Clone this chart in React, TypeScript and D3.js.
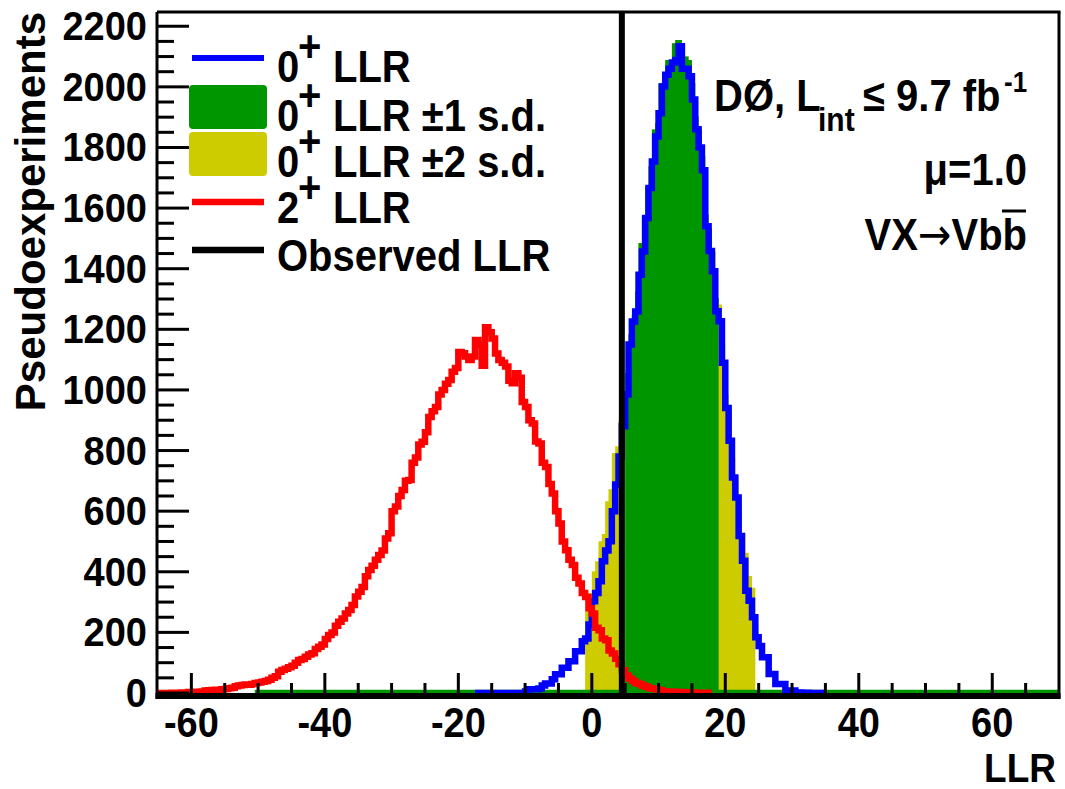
import React from "react";
import * as d3 from "d3";

const W = 1065;
const H = 789;
const BIN = 0.5;
const X_DOMAIN: [number, number] = [-65, 70];
const Y_DOMAIN: [number, number] = [0, 2247];

// 2+ LLR histogram, bins of 0.5 starting at -65
const RED_START = -65;
const red2Plus = [
  0, 0, 0, 0, 1, 1, 1, 2, 2, 3, 3, 4, 4, 5,
  8, 9, 10, 11, 10, 12, 13,
  16, 17,
  22, 25, 26, 28, 27, 30,
  33, 35, 37, 40, 44,
  50, 55,
  70, 76, 80,
  85, 90,
  100, 109, 112,
  120, 127, 131,
  145, 153, 160,
  178, 191, 200,
  222, 235, 246,
  262, 274, 290,
  318, 334, 350,
  385, 406, 420,
  440, 455, 470,
  510, 527,
  600, 615, 650, 670, 700, 703, 760, 777, 820, 829, 860, 911, 930, 944, 985, 1000, 1020, 1033, 1060, 1072,
  1125, 1121, 1110,
  1099, 1110,
  1165, 1150,
  1080,
  1207,
  1190, 1170,
  1120, 1099, 1090, 1077, 1030, 1022, 1055, 1040, 960, 944, 900, 889, 830, 823, 760, 746, 690, 658, 600, 559,
  500, 471, 440, 422, 380, 361, 330, 317, 280, 262, 215, 207, 180, 174, 140, 130, 113, 95, 75, 58,
  48, 40, 33, 30, 24, 21,
  16, 14, 12, 10,
  6, 5, 5, 4, 4, 3, 3, 2, 2, 2, 1, 1, 1, 1, 0,
];

// 0+ LLR histogram, bins of 0.5 starting at -17.5
const BLUE_START = -17.5;
const blue0Plus = [
  0, 0, 0, 0, 0, 0, 0, 0, 0, 0, 0, 0, 0, 0, 0,
  5, 12, 12, 12, 15,
  25, 31, 31,
  45, 62, 62,
  83, 83, 105, 105, 138, 138, 171, 180,
  226,
  303, 330, 369, 435, 470, 501, 600, 688, 780, 880,
  985, 1150, 1226, 1259, 1380, 1457, 1567, 1666, 1754, 1836,
  1913, 2001, 2040, 2060, 2080, 2089, 2134, 2060, 2060, 2035,
  1958, 1860, 1800, 1725, 1540, 1458, 1392, 1260, 1227, 1090,
  940, 832, 711, 645, 518, 436, 337, 304, 250, 184,
  155, 118, 118, 63, 63, 30, 30, 30, 8, 8,
  8, 2, 2, 1, 1, 0, 0, 0, 0, 0,
];

// 0+ LLR band histogram (filled), bins of 0.5 starting at -1.0
const BAND_START = -1.0;
const band0Plus = [
  270, 330, 402, 435, 501, 525, 633, 672, 792, 814, 900, 980,
  1056, 1183, 1249, 1325, 1485, 1573, 1672, 1738, 1859, 1880,
  2012, 2012, 2089, 2089, 2144, 2155, 2155, 2100, 2100, 2089,
  2012, 1902, 1859, 1771, 1578, 1534, 1457, 1303, 1282, 1150,
  986, 930, 776, 715, 617, 528, 463, 386, 347,
];
const ONE_SD: [number, number] = [5.0, 19.0];
const BAND_LINE_RANGE: [number, number] = [-50.5, 70];
const OBSERVED_LLR = 4.5;

const X_MAJOR = [-60, -40, -20, 0, 20, 40, 60];
const Y_MAJOR = [0, 200, 400, 600, 800, 1000, 1200, 1400, 1600, 1800, 2000, 2200];

const FONT = "'Liberation Sans', Arial, Helvetica, sans-serif";
const BLUE = "#0000ff";
const RED = "#ff0000";
const GREEN = "#009600";
const YELLOW = "#cccc00";

type Pt = [number, number];

function stepPoints(start: number, vals: number[]): Pt[] {
  const pts: Pt[] = vals.map((v, i) => [start + i * BIN, v] as Pt);
  pts.push([start + vals.length * BIN, vals[vals.length - 1]]);
  return pts;
}

function T(props: {
  x: number;
  y: number;
  size: number;
  sy?: number;
  anchor?: "start" | "middle" | "end";
  children: React.ReactNode;
}) {
  const { x, y, size, sy = 1.12, anchor = "start", children } = props;
  return (
    <text
      transform={`translate(${x},${y}) scale(1,${sy})`}
      fontSize={size}
      fontFamily={FONT}
      fontWeight="bold"
      textAnchor={anchor}
      fill="#000"
    >
      {children}
    </text>
  );
}

export default function App() {
  const x = d3.scaleLinear().domain(X_DOMAIN).range([158, 1059]);
  const y = d3.scaleLinear().domain(Y_DOMAIN).range([693, 12]);

  const line = d3
    .line<Pt>()
    .x((d) => x(d[0]))
    .y((d) => y(d[1]))
    .curve(d3.curveStepAfter);
  const area = d3
    .area<Pt>()
    .x((d) => x(d[0]))
    .y0(y(0))
    .y1((d) => y(d[1]))
    .curve(d3.curveStepAfter);

  const bandPts = stepPoints(BAND_START, band0Plus);
  const greenVals = band0Plus.filter((_, i) => {
    const s = BAND_START + i * BIN;
    return s >= ONE_SD[0] - 1e-9 && s < ONE_SD[1] - 1e-9;
  });
  const greenPts = stepPoints(ONE_SD[0], greenVals);

  const redPts = stepPoints(RED_START, red2Plus);
  const bluePts = stepPoints(BLUE_START, blue0Plus);

  const xMinor = d3.range(-65, 70.01, 5).filter((v) => v % 20 !== 0 && v > X_DOMAIN[0] && v < X_DOMAIN[1]);
  const yMinor = d3.range(0, Y_DOMAIN[1], 50).filter((v) => v % 200 !== 0);

  const frameTop = y(Y_DOMAIN[1]);
  const frameBottom = y(0);

  return (
    <svg
      width={W}
      height={H}
      viewBox={`0 0 ${W} ${H}`}
      style={{ position: "absolute", left: 0, top: 0, display: "block", background: "#fff" }}
    >
      <rect x={0} y={0} width={W} height={H} fill="#fff" />

      {/* filled 0+ bands */}
      <path d={area(bandPts) || ""} fill={YELLOW} />
      <path d={area(greenPts) || ""} fill={GREEN} />
      <line
        x1={x(BAND_LINE_RANGE[0])}
        x2={x(BAND_LINE_RANGE[1])}
        y1={y(0)}
        y2={y(0)}
        stroke={GREEN}
        strokeWidth={6.5}
      />

      {/* histograms */}
      <path d={line(bluePts) || ""} fill="none" stroke={BLUE} strokeWidth={6.5} strokeLinejoin="miter" />
      <path d={line(redPts) || ""} fill="none" stroke={RED} strokeWidth={6.5} strokeLinejoin="miter" />

      {/* observed */}
      <line
        x1={x(OBSERVED_LLR)}
        x2={x(OBSERVED_LLR)}
        y1={frameTop}
        y2={frameBottom}
        stroke="#000"
        strokeWidth={6}
      />

      {/* frame */}
      <line x1={157} x2={157} y1={frameTop} y2={699} stroke="#000" strokeWidth={3} />
      <line x1={157} x2={1060.5} y1={frameTop} y2={frameTop} stroke="#000" strokeWidth={3} />
      <line x1={1059} x2={1059} y1={frameTop} y2={699} stroke="#000" strokeWidth={3} />
      <rect x={155.5} y={693} width={905} height={6} fill="#000" />

      {/* x ticks */}
      {X_MAJOR.map((v) => (
        <line key={"xM" + v} x1={x(v)} x2={x(v)} y1={693} y2={673} stroke="#000" strokeWidth={3} />
      ))}
      {xMinor.map((v) => (
        <line key={"xm" + v} x1={x(v)} x2={x(v)} y1={693} y2={683} stroke="#000" strokeWidth={3} />
      ))}
      {X_MAJOR.map((v) => (
        <T key={"xl" + v} x={x(v)} y={737} size={38} sy={1.1} anchor="middle">
          {v < 0 ? "-" + Math.abs(v) : String(v)}
        </T>
      ))}

      {/* y ticks */}
      {Y_MAJOR.map((v) => (
        <line key={"yM" + v} x1={157} x2={189} y1={y(v)} y2={y(v)} stroke="#000" strokeWidth={3} />
      ))}
      {yMinor.map((v) => (
        <line key={"ym" + v} x1={157} x2={174} y1={y(v)} y2={y(v)} stroke="#000" strokeWidth={3} />
      ))}
      {Y_MAJOR.map((v) => (
        <T key={"yl" + v} x={147} y={y(v) + 14} size={38} sy={1.08} anchor="end">
          {String(v)}
        </T>
      ))}

      {/* axis titles */}
      <text
        transform="translate(45,12) rotate(-90)"
        fontSize={42}
        fontFamily={FONT}
        fontWeight="bold"
        textAnchor="end"
      >
        Pseudoexperiments
      </text>
      <T x={1056} y={782} size={37} sy={1.1} anchor="end">
        LLR
      </T>

      {/* legend */}
      <line x1={192} x2={264} y1={58} y2={58} stroke={BLUE} strokeWidth={6} />
      <rect x={189} y={85} width={78} height={44} rx={4} fill={GREEN} />
      <rect x={189} y={132} width={78} height={44} rx={4} fill={YELLOW} />
      <line x1={192} x2={264} y1={202} y2={202} stroke={RED} strokeWidth={6.5} />
      <line x1={192} x2={264} y1={250} y2={250} stroke="#000" strokeWidth={6.5} />

      <T x={277} y={82} size={40}>0</T>
      <T x={298} y={62} size={40}>+</T>
      <T x={333} y={82} size={40}>LLR</T>

      <T x={277} y={131} size={40}>0</T>
      <T x={298} y={111} size={40}>+</T>
      <T x={333} y={131} size={40}>LLR ±1 s.d.</T>

      <T x={277} y={177} size={40}>0</T>
      <T x={298} y={157} size={40}>+</T>
      <T x={333} y={177} size={40}>LLR ±2 s.d.</T>

      <T x={277} y={223} size={40}>2</T>
      <T x={298} y={203} size={40}>+</T>
      <T x={333} y={223} size={40}>LLR</T>

      <T x={277} y={271} size={40}>Observed LLR</T>

      {/* annotations */}
      <T x={714} y={111} size={40}>DØ, L</T>
      <T x={818} y={131} size={30}>int</T>
      <T x={863} y={111} size={40}>≤ 9.7 fb</T>
      <T x={1004} y={92} size={26}>-1</T>

      <T x={1027} y={185} size={40} anchor="end">μ=1.0</T>
      <T x={1027} y={250} size={40} anchor="end">
        VX<tspan fontFamily="'DejaVu Sans', sans-serif" fontWeight="normal">→</tspan>Vbb
      </T>
      <line x1={1002} x2={1026} y1={211} y2={211} stroke="#000" strokeWidth={3} />
    </svg>
  );
}
